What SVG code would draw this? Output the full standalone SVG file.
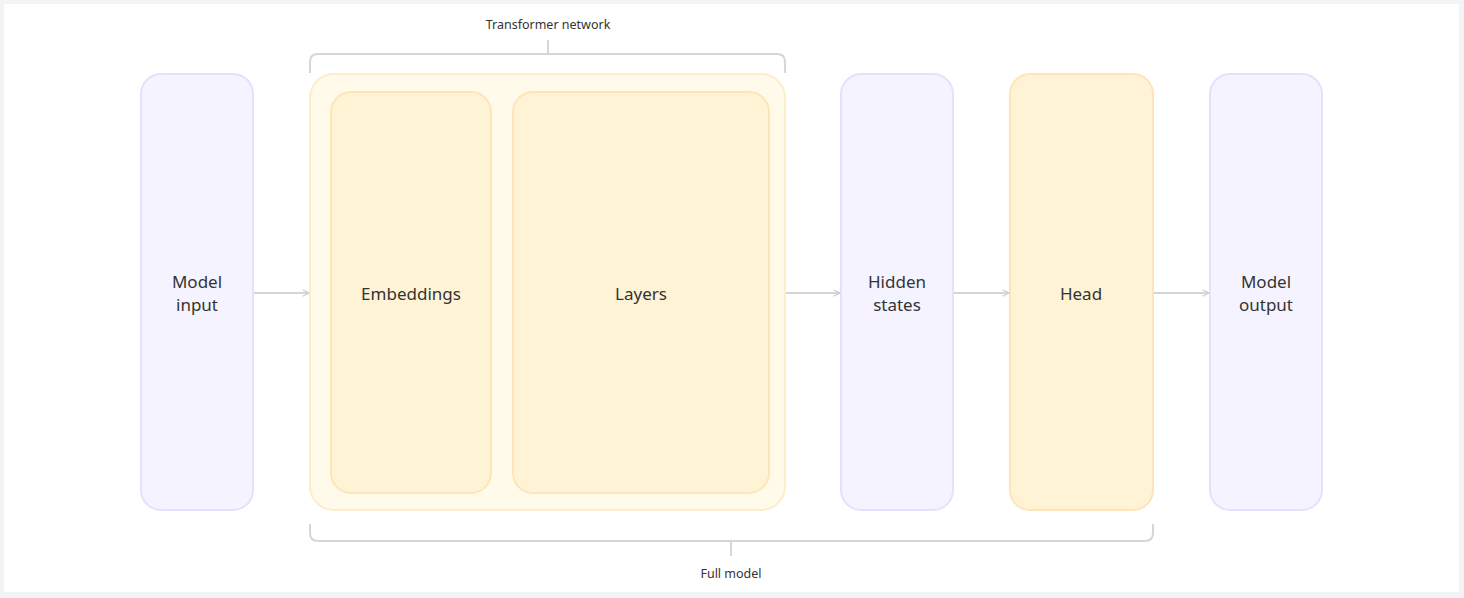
<svg xmlns="http://www.w3.org/2000/svg" width="1464" height="598" viewBox="0 0 1464 598">
<style>
.purple{fill:#f5f3ff;stroke:#dfe3fc;stroke-width:2}
.amber{fill:#fff3d6;stroke:#fde5b8;stroke-width:2}
.amberOuter{fill:#fffaea;stroke:#fdedc8;stroke-width:2}
.lbl{font-family:"Noto Sans","Open Sans",sans-serif;font-size:17px;fill:#333;text-anchor:middle}
.small{font-family:"Noto Sans","Open Sans",sans-serif;font-size:12.5px;fill:#333;text-anchor:middle}
.conn{stroke:#d6d6d6;stroke-width:2;fill:none}
</style>
<defs>
<marker id="arr" viewBox="0 0 10 10" refX="9" refY="5" markerWidth="8" markerHeight="8" markerUnits="userSpaceOnUse" orient="auto">
<path d="M1,1 L9,5 L1,9" fill="none" stroke="#cfcfcf" stroke-width="1.6"/>
</marker>
</defs>
<rect x="0" y="0" width="1464" height="598" fill="#f3f4f6"/>
<rect x="4" y="4" width="1455" height="588" fill="#ffffff"/>
<g id="model-input">
<rect class="purple" x="141" y="74" width="112" height="436" rx="20"/>
<text class="lbl" x="197" y="288">Model</text>
<text class="lbl" x="197" y="311">input</text>
</g>
<g id="transformer-network">
<rect class="amberOuter" x="310" y="74" width="475" height="436" rx="24"/>
</g>
<g id="embeddings">
<rect class="amber" x="331" y="92" width="160" height="401" rx="20"/>
<text class="lbl" x="411" y="300">Embeddings</text>
</g>
<g id="layers">
<rect class="amber" x="513" y="92" width="256" height="401" rx="20"/>
<text class="lbl" x="641" y="300">Layers</text>
</g>
<g id="hidden-states">
<rect class="purple" x="841" y="74" width="112" height="436" rx="20"/>
<text class="lbl" x="897" y="288">Hidden</text>
<text class="lbl" x="897" y="311">states</text>
</g>
<g id="head">
<rect class="amber" x="1010" y="74" width="143" height="436" rx="20"/>
<text class="lbl" x="1081" y="300">Head</text>
</g>
<g id="model-output">
<rect class="purple" x="1210" y="74" width="112" height="436" rx="20"/>
<text class="lbl" x="1266" y="288">Model</text>
<text class="lbl" x="1266" y="311">output</text>
</g>
<g id="connectors">
<line class="conn" x1="254" y1="293" x2="309" y2="293" marker-end="url(#arr)"/>
<line class="conn" x1="786" y1="293" x2="840" y2="293" marker-end="url(#arr)"/>
<line class="conn" x1="954" y1="293" x2="1009" y2="293" marker-end="url(#arr)"/>
<line class="conn" x1="1154" y1="293" x2="1209" y2="293" marker-end="url(#arr)"/>
<path class="conn" d="M310,73 V62 Q310,54 318,54 H777 Q785,54 785,62 V73"/>
<line class="conn" x1="548" y1="40" x2="548" y2="54"/>
<path class="conn" d="M310,524 V533 Q310,541 318,541 H1145 Q1153,541 1153,533 V524"/>
<line class="conn" x1="731" y1="541" x2="731" y2="556"/>
</g>
<g id="labels">
<text class="small" x="548" y="29">Transformer network</text>
<text class="small" x="731" y="578">Full model</text>
</g>
</svg>
